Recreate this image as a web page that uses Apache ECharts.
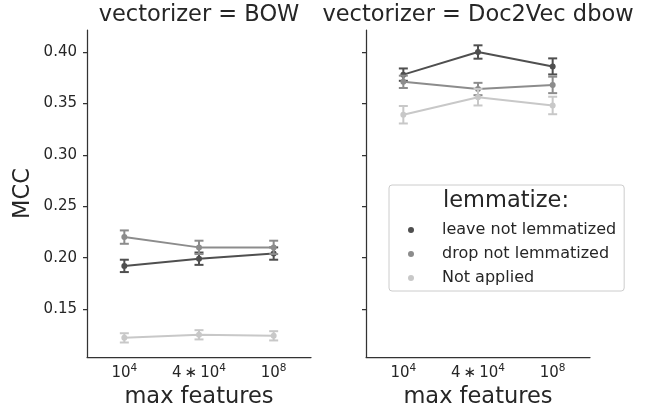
<!DOCTYPE html>
<html>
<head>
<meta charset="utf-8">
<script src="https://cdn.jsdelivr.net/npm/echarts@6/dist/echarts.min.js"></script>
<style>
  html, body { margin: 0; padding: 0; background: #fff; }
  #chart { width: 654px; height: 408px; }
</style>
</head>
<body>
<div id="chart"></div>
<script>
// categories of the x axis (max features)
var categories = ['1e4', '4e4', '1e8'];
var catLabels = ['{b|10}{s|4}', '{b|4\u2009\u2217\u200910}{s|4}', '{b|10}{s|8}'];
var yTicks = [0.15, 0.20, 0.25, 0.30, 0.35, 0.40];
var seriesNames = ['leave not lemmatized', 'drop not lemmatized', 'Not applied'];
var colors = ['#4f4f4f', '#8c8c8c', '#c8c8c8'];

// vectorizer = BOW : mean MCC and half-width of the error bar
var bowLeave = [0.192, 0.199, 0.204];
var bowLeaveErr = [0.006, 0.006, 0.006];
var bowDrop = [0.220, 0.210, 0.210];
var bowDropErr = [0.0065, 0.0065, 0.0065];
var bowNone = [0.122, 0.125, 0.124];
var bowNoneErr = [0.0045, 0.0045, 0.0045];

// vectorizer = Doc2Vec dbow
var d2vLeave = [0.378, 0.400, 0.386];
var d2vLeaveErr = [0.006, 0.0065, 0.0078];
var d2vDrop = [0.371, 0.364, 0.368];
var d2vDropErr = [0.006, 0.006, 0.008];
var d2vNone = [0.339, 0.356, 0.348];
var d2vNoneErr = [0.0085, 0.008, 0.0085];

var FONT = 'DejaVu Sans';
var AXC = '#333333';
var TXT = '#262626';

var chart = echarts.init(document.getElementById('chart'), null, {renderer: 'canvas'});

//error bar with caps
function renderErr(params, api) {
    var lo = api.coord([api.value(0), api.value(1)]);
    var hi = api.coord([api.value(0), api.value(2)]);
    var hw = 4.5;
    var st = {stroke: api.visual('color'), lineWidth: 2};
    return {
        type: 'group',
        children: [
            {type: 'line', shape: {x1: lo[0], y1: lo[1], x2: hi[0], y2: hi[1]}, style: st},
            {type: 'line', shape: {x1: lo[0] - hw, y1: lo[1], x2: lo[0] + hw, y2: lo[1]}, style: st},
            {type: 'line', shape: {x1: hi[0] - hw, y1: hi[1], x2: hi[0] + hw, y2: hi[1]}, style: st}
        ]
    };
}

function errData(vals, errs) {
    return vals.map(function (v, i) { return [i, v - errs[i], v + errs[i]]; });
}

var panels = [
    [[bowLeave, bowLeaveErr], [bowDrop, bowDropErr], [bowNone, bowNoneErr]],
    [[d2vLeave, d2vLeaveErr], [d2vDrop, d2vDropErr], [d2vNone, d2vNoneErr]]
];

var series = [];
panels.forEach(function (panel, p) {
    panel.forEach(function (s, k) {
        series.push({
            type: 'custom',
            xAxisIndex: p,
            yAxisIndex: p,
            renderItem: renderErr,
            itemStyle: {color: colors[k]},
            z: 2 + k,
            silent: true,
            data: errData(s[0], s[1])
        });
        series.push({
            type: 'line',
            name: seriesNames[k],
            xAxisIndex: p,
            yAxisIndex: p,
            symbol: 'circle',
            symbolSize: 6,
            z: 2 + k,
            itemStyle: {color: colors[k]},
            lineStyle: {color: colors[k], width: 2},
            animation: false,
            data: s[0]
        });
    });
});

function xAxisOpt(idx) {
    return {
        type: 'category',
        gridIndex: idx,
        data: categories,
        boundaryGap: true,
        name: 'max features',
        nameLocation: 'middle',
        nameGap: 27,
        nameTextStyle: {fontFamily: FONT, fontSize: 22.5, color: TXT},
        axisLine: {lineStyle: {color: AXC, width: 1.25}},
        axisTick: {alignWithLabel: true, interval: 0, length: 4, lineStyle: {color: AXC, width: 1.25}},
        axisLabel: {
            margin: 6,
            interval: 0,
            hideOverlap: false,
            formatter: function (v, i) { return catLabels[i]; },
            rich: {
                b: {fontFamily: FONT, fontSize: 15, color: TXT, lineHeight: 20},
                s: {fontFamily: FONT, fontSize: 10.5, color: TXT, lineHeight: 10, verticalAlign: 'top'}
            }
        },
        splitLine: {show: false}
    };
}

function yAxisOpt(idx) {
    return {
        type: 'value',
        gridIndex: idx,
        min: 0.1034,
        max: 0.4214,
        name: idx === 0 ? 'MCC' : '',
        nameLocation: 'middle',
        nameGap: 52,
        nameTextStyle: {fontFamily: FONT, fontSize: 22.5, color: TXT},
        axisLine: {show: true, lineStyle: {color: AXC, width: 1.25}},
        axisTick: {show: true, length: 4, customValues: yTicks, lineStyle: {color: AXC, width: 1.25}},
        axisLabel: {
            show: idx === 0,
            margin: 10,
            customValues: yTicks,
            fontFamily: FONT, fontSize: 15, color: TXT,
            formatter: function (v) { return v.toFixed(2); }
        },
        splitLine: {show: false}
    };
}

chart.setOption({
    backgroundColor: '#ffffff',
    animation: false,
    title: [
        {text: 'vectorizer = BOW', left: 199, top: 4, textAlign: 'center', padding: 0,
            textStyle: {fontFamily: FONT, fontSize: 22.5, fontWeight: 'normal', color: TXT}},
        {text: 'vectorizer = Doc2Vec dbow', left: 478, top: 4, textAlign: 'center', padding: 0,
            textStyle: {fontFamily: FONT, fontSize: 22.5, fontWeight: 'normal', color: TXT}},
        {text: 'lemmatize:', left: 506, top: 190, textAlign: 'center', padding: 0, z: 10,
            textStyle: {fontFamily: FONT, fontSize: 22.5, fontWeight: 'normal', color: TXT}}
    ],
    legend: {
        data: seriesNames,
        orient: 'vertical',
        left: 389,
        top: 185,
        padding: [37, 8, 5, 19],
        itemGap: 8,
        itemWidth: 6,
        itemHeight: 14,
        icon: 'circle',
        backgroundColor: 'rgba(255,255,255,0.8)',
        borderColor: '#cccccc',
        borderWidth: 1,
        borderRadius: 3,
        textStyle: {fontFamily: FONT, fontSize: 16, color: TXT, lineHeight: 14, padding: [0, 0, 0, 23]}
    },
    grid: [
        {left: 87, top: 30, width: 224, height: 327, outerBoundsMode: 'none'},
        {left: 366, top: 30, width: 224, height: 327, outerBoundsMode: 'none'}
    ],
    xAxis: [xAxisOpt(0), xAxisOpt(1)],
    yAxis: [yAxisOpt(0), yAxisOpt(1)],
    series: series
});
</script>
</body>
</html>
